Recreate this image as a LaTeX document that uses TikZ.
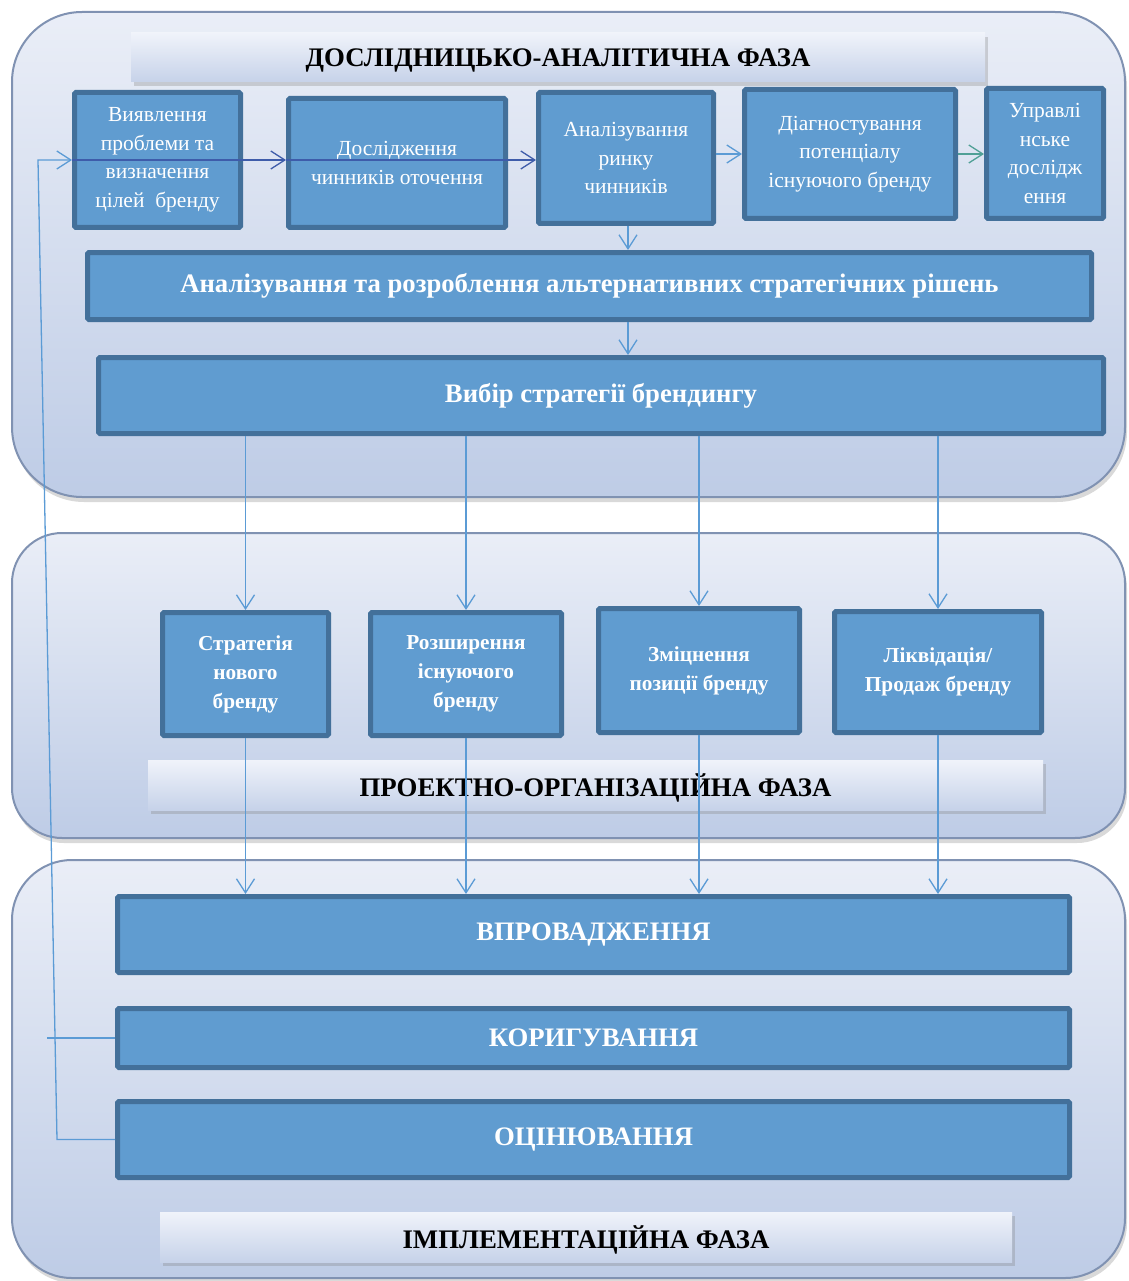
\documentclass[tikz,border=0pt]{standalone}
\usepackage{fontspec}
\setmainfont{Liberation Serif}
\usetikzlibrary{arrows.meta,shadows}
\definecolor{boxfill}{RGB}{96,156,208}
\definecolor{boxline}{RGB}{67,112,154}
\definecolor{phasetop}{RGB}{234,238,247}
\definecolor{phasebot}{RGB}{190,204,230}
\definecolor{phaseline}{RGB}{128,146,178}
\definecolor{titletop}{RGB}{240,243,250}
\definecolor{titlebot}{RGB}{198,210,233}
\definecolor{linkblue}{RGB}{91,155,213}
\definecolor{linknavy}{RGB}{62,92,170}
\definecolor{linkteal}{RGB}{80,160,150}

\tikzset{
  phasebg/.style={draw=phaseline,line width=2pt,top color=phasetop,bottom color=phasebot,
    drop shadow={shadow xshift=2pt,shadow yshift=-5pt,opacity=0.3}},
  phasetitle/.style={top color=titletop,bottom color=titlebot,inner sep=0pt,
    drop shadow={shadow xshift=3pt,shadow yshift=-4pt,opacity=0.3},
    text depth=0pt,font=\fontsize{26.8}{30}\selectfont\bfseries},
  bluebox/.style={draw=boxline,line width=5pt,fill=boxfill,text=white,align=center,
    rounded corners=1.5pt,inner sep=0pt},
  rowtext/.style={font=\fontsize{21.5}{28.5}\selectfont},
  midtext/.style={font=\fontsize{21.3}{29}\selectfont\bfseries},
  widetext/.style={font=\fontsize{26.7}{30}\selectfont\bfseries},
  arr/.style={draw=linkblue,line width=1.3pt,-{Straight Barb[length=14pt,width=18pt]}},
}

\begin{document}
\begin{tikzpicture}[x=1pt,y=-1pt]
\useasboundingbox (0,0) rectangle (1128,1281);

% phases
\path[phasebg,rounded corners=70pt] (12,12) rectangle (1125,497);
\path[phasebg,rounded corners=50pt] (12,533) rectangle (1125,838);
\path[phasebg,rounded corners=60pt] (12,860) rectangle (1125,1278);

\node[phasetitle,minimum width=854pt,minimum height=49pt] (t1) at (558,57.5) {ДОСЛІДНИЦЬКО-АНАЛІТИЧНА ФАЗА};
\node[phasetitle,minimum width=895pt,minimum height=50pt] (t2) at (595.5,785) {ПРОЕКТНО-ОРГАНІЗАЦІЙНА ФАЗА};
\node[phasetitle,minimum width=852pt,minimum height=50pt] (t3) at (586,1237) {ІМПЛЕМЕНТАЦІЙНА ФАЗА};

% research row
\node[bluebox,rowtext,minimum width=166pt,minimum height=135pt] (b1) at (157.5,160) {Виявлення\\проблеми та\\визначення\\цілей~~бренду};
\node[bluebox,rowtext,minimum width=217pt,minimum height=129pt] (b2) at (397,163) {Дослідження\\чинників оточення};
\node[bluebox,rowtext,minimum width=175pt,minimum height=131pt] (b3) at (626,158) {Аналізування\\ринку\\чинників};
\node[bluebox,rowtext,minimum width=211pt,minimum height=129pt] (b4) at (850,154) {Діагностування\\потенціалу\\існуючого бренду};
\node[bluebox,rowtext,minimum width=117pt,minimum height=130pt] (b5) at (1045,153.5) {Управлі\\нське\\дослідж\\ення};
\node[bluebox,widetext,minimum width=1004pt,minimum height=67pt] (ana) at (589.5,286) {Аналізування та розроблення альтернативних стратегічних рішень};
\node[bluebox,widetext,minimum width=1005pt,minimum height=76pt] (vybir) at (601,395.5) {Вибір стратегії брендингу};

% strategies
\node[bluebox,midtext,minimum width=166pt,minimum height=123pt] (m1) at (245.5,674) {Стратегія\\нового\\бренду};
\node[bluebox,midtext,minimum width=191pt,minimum height=123pt] (m2) at (466,674) {Розширення\\існуючого\\бренду};
\node[bluebox,midtext,minimum width=201pt,minimum height=124pt] (m3) at (699,670.5) {Зміцнення\\позиції бренду};
\node[bluebox,midtext,minimum width=207pt,minimum height=121pt] (m4) at (938,672) {Ліквідація/\\Продаж бренду};

% implementation
\node[bluebox,widetext,minimum width=952pt,minimum height=76pt] (vpr) at (593.5,934.5) {ВПРОВАДЖЕННЯ};
\node[bluebox,widetext,minimum width=952pt,minimum height=59pt] (kor) at (593.5,1038) {КОРИГУВАННЯ};
\node[bluebox,widetext,minimum width=952pt,minimum height=76pt] (ocin) at (593.5,1139.5) {ОЦІНЮВАННЯ};

% links
\draw[arr,draw=linknavy] (b1.west) -- (b2.west |- b1.west);
\draw[arr,draw=linknavy] (b2.west |- b1.west) -- (b3.west |- b1.west);
\draw[arr] (b3.east |- b4) -- (b4.west);
\draw[arr,draw=linkteal] (b4.east) -- (b5.west |- b4.east);
\draw[arr] (b3.south -| 628,0) -- (ana.north -| 628,0);
\draw[arr] (ana.south -| 628,0) -- (vybir.north -| 628,0);
\foreach \m in {m1,m2,m3,m4}
  \draw[arr] (vybir.south -| \m.north) -- (\m.north);
\foreach \m in {m1,m2,m3,m4}
  \draw[arr] (\m.south) -- (vpr.north -| \m.south);

% feedback
\coordinate (fbtop) at (38,160);
\draw[arr] (ocin.west) -- ++(-58,0) coordinate (fbbot) -- (fbtop) -- (b1.west);
\draw[draw=linkblue,line width=1.3pt] (kor.west) -- (47,1038);
\end{tikzpicture}
\end{document}
